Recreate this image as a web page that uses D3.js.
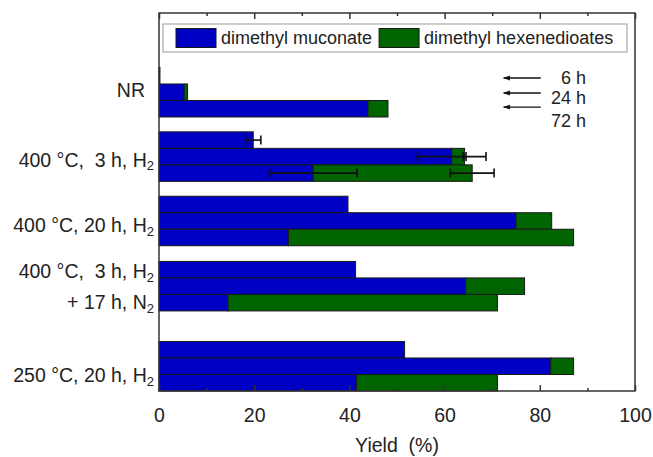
<!DOCTYPE html>
<html>
<head>
<meta charset="utf-8">
<script src="https://cdn.jsdelivr.net/npm/d3@7"></script>
<style>
  body { margin: 0; background: #fff; }
  text { font-family: "Liberation Sans", Arial, sans-serif; fill: #222; }
</style>
</head>
<body>
<div id="chart"></div>
<script>
// condition labels, each line = [main text, subscript]
const conditions = [
  [["NR", ""]],
  [["400 °C,  3 h, H", "2"]],
  [["400 °C, 20 h, H", "2"]],
  [["400 °C,  3 h, H", "2"], ["+ 17 h, N", "2"]],
  [["250 °C, 20 h, H", "2"]]
];
const times = ["6 h", "24 h", "72 h"];
const seriesNames = ["dimethyl muconate", "dimethyl hexenedioates"];

// yields (%) per condition, per reaction time (6 h, 24 h, 72 h)
const muconate = [
  [0.2, 5.3, 43.9],
  [19.8, 61.5, 32.4],
  [39.7, 75.0, 27.2],
  [41.3, 64.4, 14.5],
  [51.6, 82.3, 41.5]
];
const hexenedioates = [
  [0, 0.7, 4.2],
  [0, 2.7, 33.4],
  [0, 7.5, 59.9],
  [0, 12.4, 56.6],
  [0, 4.8, 29.6]
];
const muconateErr = [
  [0, 0, 0],
  [1.6, 7.2, 9.2],
  [0, 0, 0],
  [0, 0, 0],
  [0, 0, 0]
];
const hexenedioatesErr = [
  [0, 0, 0],
  [0, 0.3, 4.6],
  [0, 0, 0],
  [0, 0, 0],
  [0, 0, 0]
];

// position of each condition group on the (numeric) y axis and its tick label
const groupBase = [16.6, 12.7, 8.8, 4.85, 0];
const labelTicks = [18.23, 14.01, 10.07, 6.32, 0.95];
const xTicks = [0, 20, 40, 60, 80, 100];
const xMinorTicks = [10, 30, 50, 70, 90];

const width = 653, height = 457;
const margin = { top: 13, right: 18, bottom: 66, left: 159 };
const colors = ["#0000c4", "#006400"];

const svg = d3.select("#chart").append("svg")
  .attr("width", width)
  .attr("height", height);

const x = d3.scaleLinear().domain([0, 100]).range([margin.left, width - margin.right]);
const y = d3.scaleLinear().domain([0, 22.9]).range([height - margin.bottom, margin.top]);

// flatten into bar records
const bars = [];
conditions.forEach((c, g) => {
  times.forEach((t, i) => {
    bars.push({
      g, i,
      y0: groupBase[g] + (2 - i),
      muc: muconate[g][i],
      hex: hexenedioates[g][i],
      mucErr: muconateErr[g][i],
      hexErr: hexenedioatesErr[g][i]
    });
  });
});

const barH = y(0) - y(1);

// muconate segments
svg.append("g").selectAll("rect")
  .data(bars)
  .enter()
  .append("rect")
  .attr("x", x(0))
  .attr("y", d => y(d.y0 + 1))
  .attr("width", d => x(d.muc) - x(0))
  .attr("height", barH)
  .style("fill", colors[0])
  .style("stroke", "#1a1a1a")
  .style("stroke-width", 1);

// hexenedioates segments
svg.append("g").selectAll("rect")
  .data(bars.filter(d => d.hex > 0))
  .enter()
  .append("rect")
  .attr("x", d => x(d.muc))
  .attr("y", d => y(d.y0 + 1))
  .attr("width", d => x(d.muc + d.hex) - x(d.muc))
  .attr("height", barH)
  .style("fill", colors[1])
  .style("stroke", "#1a1a1a")
  .style("stroke-width", 1);

// error bars
const errs = [];
bars.forEach(d => {
  if (d.mucErr > 0) errs.push({ c: d.muc, e: d.mucErr, yc: d.y0 + 0.5 });
  if (d.hexErr > 0) errs.push({ c: d.muc + d.hex, e: d.hexErr, yc: d.y0 + 0.5 });
});
const errG = svg.append("g").style("stroke", "#111").style("stroke-width", 1.6);
errs.forEach(d => {
  const yc = y(d.yc);
  errG.append("line").attr("x1", x(d.c - d.e)).attr("x2", x(d.c + d.e)).attr("y1", yc).attr("y2", yc);
  [d.c - d.e, d.c + d.e].forEach(v => {
    errG.append("line").attr("x1", x(v)).attr("x2", x(v)).attr("y1", yc - 4.5).attr("y2", yc + 4.5);
  });
});

// frame
svg.append("rect")
  .attr("x", x(0))
  .attr("y", y(22.9))
  .attr("width", x(100) - x(0))
  .attr("height", y(0) - y(22.9))
  .style("fill", "none")
  .style("stroke", "#333")
  .style("stroke-width", 1.5);

// bottom axis
const xAxis = svg.append("g")
  .attr("transform", `translate(0,${y(0)})`)
  .call(d3.axisBottom(x).tickValues(xTicks).tickSize(-6).tickPadding(17).tickFormat(d3.format("d")));
xAxis.select(".domain").remove();
xAxis.selectAll("line").style("stroke", "#333").style("stroke-width", 1.5);
xAxis.selectAll("text").style("font-size", "19.5px").style("fill", "#222");

const xMinor = svg.append("g")
  .attr("transform", `translate(0,${y(0)})`)
  .call(d3.axisBottom(x).tickValues(xMinorTicks).tickSize(-3).tickFormat(""));
xMinor.select(".domain").remove();
xMinor.selectAll("line").style("stroke", "#333").style("stroke-width", 1.5);

// top axis (ticks only)
const xTop = svg.append("g")
  .attr("transform", `translate(0,${y(22.9)})`)
  .call(d3.axisTop(x).tickValues(xTicks).tickSize(-6).tickFormat(""));
xTop.select(".domain").remove();
xTop.selectAll("line").style("stroke", "#333").style("stroke-width", 1.5);

const xTopMinor = svg.append("g")
  .attr("transform", `translate(0,${y(22.9)})`)
  .call(d3.axisTop(x).tickValues(xMinorTicks).tickSize(-3).tickFormat(""));
xTopMinor.select(".domain").remove();
xTopMinor.selectAll("line").style("stroke", "#333").style("stroke-width", 1.5);

// x axis title
svg.append("text")
  .attr("x", (x(0) + x(100)) / 2)
  .attr("y", 452)
  .style("text-anchor", "middle")
  .style("font-size", "19.5px")
  .style("white-space", "pre")
  .text("Yield  (%)");

// y category labels
const lineGap = 31;
conditions.forEach((lines, g) => {
  const yc = y(labelTicks[g]);
  lines.forEach((ln, k) => {
    const yy = yc + (k - (lines.length - 1) / 2) * lineGap;
    const t = svg.append("text")
      .attr("x", x(0) - 5)
      .attr("y", yy)
      .attr("dy", "0.35em")
      .style("text-anchor", "end")
      .style("font-size", "19.5px")
      .style("white-space", "pre");
    t.append("tspan").text(ln[0]);
    if (ln[1]) {
      t.append("tspan").attr("dy", "0.3em").style("font-size", "13px").text(ln[1]);
    } else {
      t.attr("x", x(0) - 14);
    }
  });
});

// legend
const legend = svg.append("g");
legend.append("rect")
  .attr("x", 163).attr("y", 24)
  .attr("width", 464).attr("height", 28)
  .style("fill", "#fff")
  .style("stroke", "#999")
  .style("stroke-width", 1);
let lx = 176;
seriesNames.forEach((name, i) => {
  legend.append("rect")
    .attr("x", lx).attr("y", 28.5)
    .attr("width", 40).attr("height", 19)
    .style("fill", colors[i])
    .style("stroke", "#1a1a1a")
    .style("stroke-width", 1);
  const t = legend.append("text")
    .attr("x", lx + 45).attr("y", 44)
    .style("font-size", "18px")
    .text(name);
  lx += 45 + t.node().getComputedTextLength() + 7;
});

// time annotation (arrows point towards the bars)
const arrowY = [18.96, 18.05, 17.2];
const timeLabelY = [19.0, 17.75, 16.4];
svg.append("defs").append("marker")
  .attr("id", "head")
  .attr("viewBox", "0 0 10 10")
  .attr("refX", 9).attr("refY", 5)
  .attr("markerWidth", 7).attr("markerHeight", 7)
  .attr("markerUnits", "userSpaceOnUse")
  .attr("orient", "auto")
  .append("path")
  .attr("d", "M10,5 L0,1.5 L0,8.5 Z")
  .style("fill", "#111");
times.forEach((t, i) => {
  svg.append("line")
    .attr("x1", x(80.2)).attr("x2", x(72.4))
    .attr("y1", y(arrowY[i])).attr("y2", y(arrowY[i]))
    .style("stroke", "#111")
    .style("stroke-width", 1.4)
    .attr("marker-end", "url(#head)");
  svg.append("text")
    .attr("x", x(89.7))
    .attr("y", y(timeLabelY[i]))
    .attr("dy", "0.35em")
    .style("text-anchor", "end")
    .style("font-size", "18px")
    .text(t);
});
</script>
</body>
</html>
